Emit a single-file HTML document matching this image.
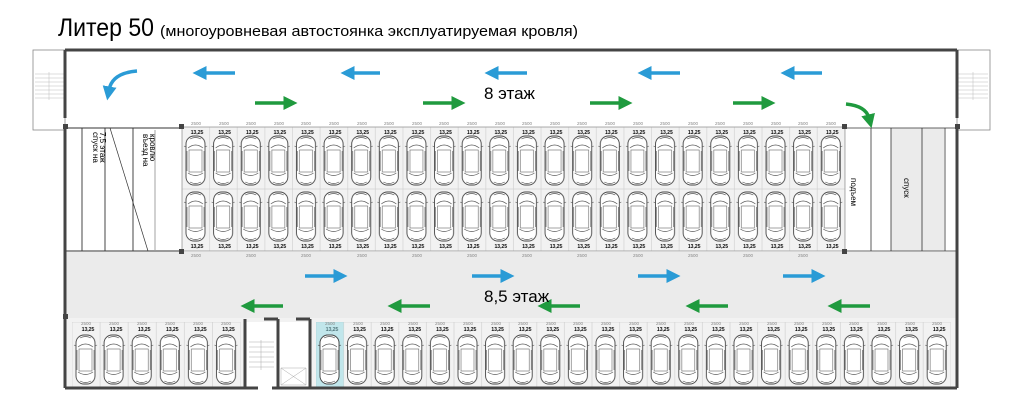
<!DOCTYPE html>
<html><head><meta charset="utf-8"><style>
body{margin:0;background:#fff;}
svg{display:block;}
</style></head><body>
<svg width="1024" height="410" viewBox="0 0 1024 410" xmlns="http://www.w3.org/2000/svg" font-family="Liberation Sans, sans-serif">
<defs>
<g id="car">
 <rect x="4" y="9" width="19" height="49" rx="8" fill="#fff" stroke="#444" stroke-width="0.9"/>
 <path d="M6 21 Q13.5 15 21 21 M6 46 Q13.5 51 21 46 M8 12 Q13.5 9 19 12 M8 55 Q13.5 58 19 55" fill="none" stroke="#555" stroke-width="0.7"/>
 <rect x="7" y="23" width="13" height="22" fill="none" stroke="#666" stroke-width="0.6"/>
 <path d="M4 20 L2 19 M23 20 L25 19 M5 24V44 M22 24V44" stroke="#555" stroke-width="0.6"/>
</g>
<pattern id="pU" patternUnits="userSpaceOnUse" x="182" y="127" width="27.62" height="62">
 <rect width="27.62" height="62" fill="#f2f2f2" stroke="#ccc" stroke-width="0.6"/>
 <use href="#car"/>
 <text x="15" y="7" font-size="5" font-weight="bold" text-anchor="middle">13,25</text>
</pattern>
<pattern id="pL" patternUnits="userSpaceOnUse" x="182" y="189" width="27.62" height="62">
 <rect width="27.62" height="62" fill="#f2f2f2" stroke="#ccc" stroke-width="0.6"/>
 <use href="#car" transform="translate(0,-6)"/>
 <text x="15" y="59" font-size="5" font-weight="bold" text-anchor="middle">13,25</text>
</pattern>
<pattern id="pB1" patternUnits="userSpaceOnUse" x="72" y="322" width="28.1" height="66">
 <rect width="28.1" height="66" fill="#f2f2f2" stroke="#ccc" stroke-width="0.6"/>
 <use href="#car" transform="translate(0,4)"/>
 <text x="16" y="9" font-size="5" font-weight="bold" text-anchor="middle">13,25</text>
</pattern>
<pattern id="pB2" patternUnits="userSpaceOnUse" x="316" y="322" width="27.6" height="66">
 <rect width="27.6" height="66" fill="#f2f2f2" stroke="#ccc" stroke-width="0.6"/>
 <use href="#car" transform="translate(0,4)"/>
 <text x="16" y="9" font-size="5" font-weight="bold" text-anchor="middle">13,25</text>
</pattern>
<marker id="ab" markerWidth="4" markerHeight="4" refX="1" refY="2" orient="auto"><path d="M0 0 L4 2 L0 4Z" fill="#2a9bd6"/></marker>
<marker id="ag" markerWidth="4" markerHeight="4" refX="1" refY="2" orient="auto"><path d="M0 0 L4 2 L0 4Z" fill="#1f9a3e"/></marker>
</defs>

<text x="58" y="36" font-size="25" textLength="96" lengthAdjust="spacingAndGlyphs">Литер 50</text>
<text x="160" y="36" font-size="15" textLength="418" lengthAdjust="spacingAndGlyphs">(многоуровневая автостоянка эксплуатируемая кровля)</text>

<rect x="33" y="50" width="32" height="80" fill="#fff" stroke="#888" stroke-width="0.8"/>
<g stroke="#bbb" stroke-width="0.5"><path d="M35 74H64M35 78H64M35 82H64M35 86H64M35 90H64M35 94H64M35 98H64M49 72V100"/></g>
<rect x="957" y="50" width="33" height="80" fill="#fff" stroke="#888" stroke-width="0.8"/>
<g stroke="#bbb" stroke-width="0.5"><path d="M958 74H988M958 78H988M958 82H988M958 86H988M958 90H988M958 94H988M958 98H988M973 72V100"/></g>

<rect x="65" y="252" width="892" height="68" fill="#ebebeb"/>
<rect x="65" y="318" width="892" height="70" fill="#f2f2f2"/>

<rect x="182" y="127" width="663" height="62" fill="url(#pU)"/>
<rect x="182" y="189" width="663" height="62" fill="url(#pL)"/>
<rect x="182" y="127" width="663" height="124" fill="none" stroke="#999" stroke-width="0.8"/>
<rect x="72" y="322" width="168.6" height="66" fill="url(#pB1)"/>
<rect x="316" y="322" width="634.8" height="66" fill="url(#pB2)"/>
<rect x="316" y="322" width="27.6" height="66" fill="#8fd9e3" opacity="0.5"/>
<use href="#car" x="316" y="326"/>

<g font-size="4.5" fill="#888" text-anchor="middle">
<text x="196" y="125">2500</text><text x="224" y="125">2500</text><text x="251" y="125">2500</text><text x="279" y="125">2500</text><text x="306" y="125">2500</text><text x="334" y="125">2500</text><text x="362" y="125">2500</text><text x="389" y="125">2500</text><text x="417" y="125">2500</text><text x="444" y="125">2500</text><text x="472" y="125">2500</text><text x="500" y="125">2500</text><text x="527" y="125">2500</text><text x="555" y="125">2500</text><text x="582" y="125">2500</text><text x="610" y="125">2500</text><text x="638" y="125">2500</text><text x="665" y="125">2500</text><text x="693" y="125">2500</text><text x="720" y="125">2500</text><text x="748" y="125">2500</text><text x="776" y="125">2500</text><text x="803" y="125">2500</text><text x="831" y="125">2500</text>
<text x="196" y="257">2500</text><text x="251" y="257">2500</text><text x="306" y="257">2500</text><text x="362" y="257">2500</text><text x="417" y="257">2500</text><text x="472" y="257">2500</text><text x="527" y="257">2500</text><text x="582" y="257">2500</text><text x="638" y="257">2500</text><text x="693" y="257">2500</text><text x="748" y="257">2500</text><text x="803" y="257">2500</text>
<text x="86" y="325">2500</text><text x="114" y="325">2500</text><text x="142" y="325">2500</text><text x="170" y="325">2500</text><text x="198" y="325">2500</text><text x="226" y="325">2500</text>
<text x="330" y="325">2500</text><text x="358" y="325">2500</text><text x="385" y="325">2500</text><text x="413" y="325">2500</text><text x="440" y="325">2500</text><text x="468" y="325">2500</text><text x="496" y="325">2500</text><text x="523" y="325">2500</text><text x="551" y="325">2500</text><text x="578" y="325">2500</text><text x="606" y="325">2500</text><text x="634" y="325">2500</text><text x="661" y="325">2500</text><text x="689" y="325">2500</text><text x="716" y="325">2500</text><text x="744" y="325">2500</text><text x="772" y="325">2500</text><text x="799" y="325">2500</text><text x="827" y="325">2500</text><text x="854" y="325">2500</text><text x="882" y="325">2500</text><text x="910" y="325">2500</text><text x="937" y="325">2500</text>
</g>

<path d="M65 128H182M65 251H182M82 128V251M105 128V251M133 128V251" stroke="#333" stroke-width="0.9" fill="none"/>
<path d="M110 128L148 251" stroke="#333" stroke-width="0.7"/>
<path d="M155 130V250" stroke="#666" stroke-width="0.6"/>
<text transform="translate(93,132) rotate(90)" font-size="8">спуск на</text>
<text transform="translate(100,132) rotate(90)" font-size="8">7,5 этаж</text>
<text transform="translate(143,134) rotate(90)" font-size="8">въезд на</text>
<text transform="translate(150,134) rotate(90)" font-size="8">кровлю</text>

<rect x="891" y="128" width="53" height="123" fill="#ebebeb"/>
<path d="M845 128H957M845 251H957M891 128V251M945 128V251M871 128V251M922 128V251" stroke="#333" stroke-width="0.8" fill="none"/>
<text transform="translate(851,178) rotate(90)" font-size="8">подъем</text>
<text transform="translate(904,178) rotate(90)" font-size="8">спуск</text>

<rect x="245" y="322" width="33" height="66" fill="#fff"/>
<rect x="278" y="322" width="32" height="66" fill="#fff"/>
<g stroke="#aaa" stroke-width="0.5"><path d="M249 342H274M249 347H274M249 352H274M249 357H274M249 362H274M249 367H274M261 340V370"/></g>
<path d="M281 368H306V385H281ZM281 368L306 385M306 368L281 385" stroke="#aaa" stroke-width="0.5" fill="none"/>

<g stroke="#444" fill="none">
<path d="M65 50H957" stroke-width="3"/>
<path d="M65 50V118M65 128V388M957 50V118M957 128V388" stroke-width="3"/>
<path d="M65 388H258M272 388H957" stroke-width="3"/>
<path d="M245 319V388M278 319V388M310 319V388" stroke-width="3"/>
<path d="M264 319H278M296 319H310" stroke-width="3"/>
</g>
<g fill="#444"><rect x="179" y="124" width="5" height="5"/><rect x="842" y="124" width="5" height="5"/><rect x="179" y="249" width="5" height="5"/><rect x="842" y="249" width="5" height="5"/><rect x="63" y="124" width="5" height="5"/><rect x="955" y="124" width="5" height="5"/><rect x="63" y="314" width="5" height="5"/></g>

<g stroke="#2a9bd6" stroke-width="3.5" marker-end="url(#ab)" fill="none">
<path d="M235 73H203"/><path d="M380 73H351"/><path d="M527 73H495"/><path d="M680 73H648"/><path d="M822 73H791"/>
<path d="M305 276H337"/><path d="M472 276H504"/><path d="M638 276H670"/><path d="M783 276H815"/>
<path d="M137 71Q112 73 109 90"/>
</g>
<g stroke="#1f9a3e" stroke-width="3.5" marker-end="url(#ag)" fill="none">
<path d="M255 103H287"/><path d="M423 103H455"/><path d="M590 103H622"/><path d="M733 103H765"/>
<path d="M283 306H251"/><path d="M430 306H398"/><path d="M580 306H548"/><path d="M728 306H696"/><path d="M870 306H838"/>
<path d="M846 104Q866 106 869 118"/>
</g>
<text x="484" y="99" font-size="17">8 этаж</text>
<text x="484" y="302" font-size="17">8,5 этаж</text>
</svg>
</body></html>
